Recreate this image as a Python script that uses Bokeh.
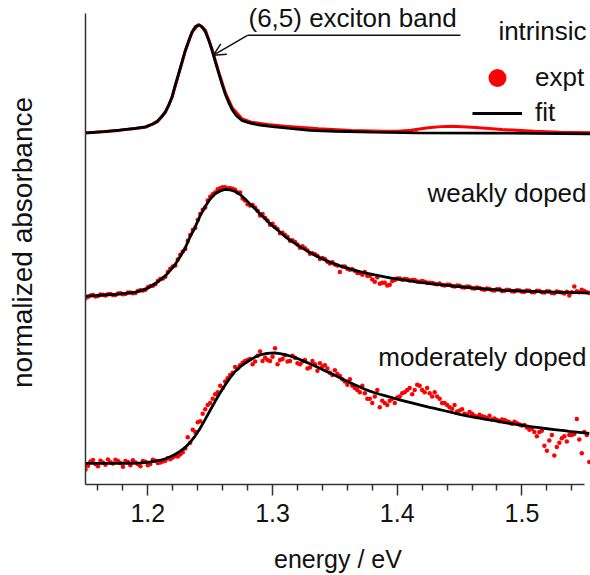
from bokeh.plotting import figure
from bokeh.models import Range1d, FixedTicker, Label, Arrow, OpenHead, Legend, LegendItem
from bokeh.embed import file_html
from bokeh.resources import INLINE

FONT = "Liberation Sans"
TXT = "#111111"
RED = "#ff0000"

# ---------------- data ----------------
# measurement grid for the doped spectra (eV), two interleaved sample sets
energy = [1.150, 1.154, 1.158, 1.162, 1.166, 1.170, 1.174, 1.178, 1.182, 1.186,
          1.190, 1.194, 1.198, 1.202, 1.206, 1.210, 1.214, 1.218, 1.222, 1.226,
          1.230, 1.234, 1.238, 1.242, 1.246, 1.250, 1.254, 1.258, 1.262, 1.266,
          1.270, 1.274, 1.278, 1.282, 1.286, 1.290, 1.294, 1.298, 1.302, 1.306,
          1.310, 1.314, 1.318, 1.322, 1.326, 1.330, 1.334, 1.338, 1.342, 1.346,
          1.350, 1.354, 1.358, 1.362, 1.366, 1.370, 1.374, 1.378, 1.382, 1.386,
          1.390, 1.394, 1.398, 1.402, 1.406, 1.410, 1.414, 1.418, 1.422, 1.426,
          1.430, 1.434, 1.438, 1.442, 1.446, 1.450, 1.454, 1.458, 1.462, 1.466,
          1.470, 1.474, 1.478, 1.482, 1.486, 1.490, 1.494, 1.498, 1.502, 1.506,
          1.510, 1.514, 1.518, 1.522, 1.526, 1.530, 1.534, 1.538, 1.542, 1.546,
          1.550, 1.554]

energy_b = [1.152, 1.156, 1.160, 1.164, 1.168, 1.172, 1.176, 1.180, 1.184, 1.188,
            1.192, 1.196, 1.200, 1.204, 1.208, 1.212, 1.216, 1.220, 1.224, 1.228,
            1.232, 1.236, 1.240, 1.244, 1.248, 1.252, 1.256, 1.260, 1.264, 1.268,
            1.272, 1.276, 1.280, 1.284, 1.288, 1.292, 1.296, 1.300, 1.304, 1.308,
            1.312, 1.316, 1.320, 1.324, 1.328, 1.332, 1.336, 1.340, 1.344, 1.348,
            1.352, 1.356, 1.360, 1.364, 1.368, 1.372, 1.376, 1.380, 1.384, 1.388,
            1.392, 1.396, 1.400, 1.404, 1.408, 1.412, 1.416, 1.420, 1.424, 1.428,
            1.432, 1.436, 1.440, 1.444, 1.448, 1.452, 1.456, 1.460, 1.464, 1.468,
            1.472, 1.476, 1.480, 1.484, 1.488, 1.492, 1.496, 1.500, 1.504, 1.508,
            1.512, 1.516, 1.520, 1.524, 1.528, 1.532, 1.536, 1.540, 1.544, 1.548,
            1.552]

weak_expt = [0.005, 0.030, 0.022, 0.040, 0.030, 0.045, 0.035, 0.052, 0.044, 0.058,
             0.055, 0.080, 0.085, 0.120, 0.135, 0.185, 0.205, 0.280, 0.310, 0.410,
             0.465, 0.595, 0.660, 0.790, 0.850, 0.950, 0.990, 1.030, 1.040, 1.030,
             1.015, 0.990, 0.915, 0.870, 0.850, 0.775, 0.755, 0.690, 0.670, 0.610,
             0.595, 0.540, 0.530, 0.475, 0.470, 0.420, 0.415, 0.370, 0.370, 0.330,
             0.320, 0.250, 0.300, 0.270, 0.262, 0.240, 0.250, 0.215, 0.160, 0.140,
             0.150, 0.130, 0.175, 0.190, 0.185, 0.170, 0.175, 0.160, 0.158, 0.150,
             0.140, 0.142, 0.125, 0.132, 0.115, 0.122, 0.105, 0.112, 0.095, 0.100,
             0.085, 0.092, 0.078, 0.090, 0.075, 0.082, 0.068, 0.078, 0.065, 0.074,
             0.060, 0.072, 0.058, 0.068, 0.052, 0.064, 0.050, 0.030, 0.115, 0.060,
             0.072, 0.055]

weak_expt_b = [0.018, 0.035, 0.025, 0.038, 0.042, 0.036, 0.050, 0.043, 0.058, 0.052,
               0.072, 0.078, 0.108, 0.122, 0.165, 0.190, 0.250, 0.300, 0.365, 0.440,
               0.540, 0.640, 0.735, 0.830, 0.915, 0.975, 1.020, 1.040, 1.030, 1.025,
               0.990, 0.935, 0.880, 0.875, 0.820, 0.790, 0.730, 0.700, 0.650, 0.615,
               0.575, 0.545, 0.505, 0.490, 0.450, 0.425, 0.400, 0.380, 0.345, 0.340,
               0.310, 0.300, 0.280, 0.275, 0.240, 0.225, 0.215, 0.180, 0.200, 0.150,
               0.125, 0.165, 0.190, 0.178, 0.182, 0.175, 0.162, 0.165, 0.150, 0.148,
               0.135, 0.128, 0.130, 0.120, 0.125, 0.108, 0.115, 0.098, 0.105, 0.090,
               0.095, 0.080, 0.088, 0.072, 0.085, 0.070, 0.080, 0.066, 0.078, 0.062,
               0.075, 0.060, 0.070, 0.055, 0.068, 0.058, 0.066, 0.062, 0.070, 0.085,
               0.062]

weak_fit = [0.025, 0.027, 0.030, 0.033, 0.036, 0.039, 0.042, 0.046, 0.050, 0.055,
            0.062, 0.074, 0.090, 0.113, 0.142, 0.176, 0.214, 0.265, 0.321, 0.395,
            0.474, 0.580, 0.670, 0.775, 0.860, 0.930, 0.978, 1.005, 1.019, 1.015,
            1.000, 0.972, 0.930, 0.882, 0.838, 0.790, 0.745, 0.700, 0.660, 0.622,
            0.580, 0.548, 0.516, 0.486, 0.458, 0.431, 0.406, 0.383, 0.362, 0.342,
            0.324, 0.307, 0.292, 0.278, 0.265, 0.253, 0.242, 0.232, 0.222, 0.213,
            0.204, 0.196, 0.188, 0.180, 0.173, 0.166, 0.159, 0.153, 0.148, 0.142,
            0.137, 0.132, 0.127, 0.122, 0.117, 0.113, 0.109, 0.104, 0.100, 0.096,
            0.092, 0.088, 0.085, 0.082, 0.079, 0.077, 0.075, 0.073, 0.071, 0.069,
            0.068, 0.066, 0.065, 0.064, 0.063, 0.061, 0.060, 0.059, 0.058, 0.057,
            0.056, 0.056]

mod_expt = [-0.020, 0.055, 0.030, 0.062, 0.025, 0.048, 0.070, 0.040, 0.058, 0.020,
            0.045, 0.010, 0.052, 0.030, 0.062, 0.045, 0.062, 0.075, 0.105, 0.120,
            0.175, 0.230, 0.330, 0.430, 0.540, 0.600, 0.680, 0.760, 0.800, 0.860,
            0.935, 0.950, 0.990, 1.010, 0.985, 1.080, 1.020, 0.990, 1.110, 1.000,
            1.045, 0.990, 1.020, 0.960, 1.000, 0.930, 0.960, 0.970, 0.950, 0.880,
            0.905, 0.850, 0.800, 0.820, 0.740, 0.700, 0.690, 0.640, 0.660, 0.560,
            0.600, 0.620, 0.600, 0.660, 0.700, 0.740, 0.720, 0.760, 0.700, 0.690,
            0.700, 0.640, 0.600, 0.560, 0.580, 0.530, 0.500, 0.515, 0.480, 0.490,
            0.470, 0.480, 0.455, 0.430, 0.440, 0.420, 0.425, 0.400, 0.395, 0.350,
            0.330, 0.330, 0.200, 0.250, 0.110, 0.230, 0.290, 0.300, 0.310, 0.260,
            0.330, 0.050]

mod_expt_b = [0.015, 0.068, 0.010, 0.045, 0.072, 0.035, 0.060, 0.005, 0.050, 0.065,
              0.030, 0.060, 0.020, 0.070, 0.040, 0.055, 0.085, 0.092, 0.100, 0.140,
              0.280, 0.350, 0.420, 0.500, 0.580, 0.640, 0.700, 0.740, 0.830, 0.880,
              0.920, 0.975, 1.000, 0.960, 1.040, 0.990, 1.000, 1.030, 0.960, 1.010,
              0.985, 1.040, 0.970, 0.985, 0.920, 0.990, 0.900, 0.940, 0.920, 0.860,
              0.870, 0.820, 0.770, 0.760, 0.720, 0.760, 0.640, 0.600, 0.720, 0.620,
              0.580, 0.640, 0.650, 0.690, 0.720, 0.680, 0.770, 0.720, 0.740, 0.660,
              0.660, 0.600, 0.580, 0.545, 0.520, 0.540, 0.490, 0.500, 0.470, 0.475,
              0.460, 0.445, 0.440, 0.445, 0.430, 0.405, 0.410, 0.390, 0.370, 0.360,
              0.290, 0.340, 0.155, 0.300, 0.190, 0.270, 0.240, 0.300, 0.450, 0.130,
              0.300]

mod_fit = [0.037, 0.037, 0.037, 0.037, 0.037, 0.037, 0.037, 0.037, 0.037, 0.038,
           0.039, 0.041, 0.045, 0.050, 0.057, 0.066, 0.080, 0.098, 0.122, 0.150,
           0.185, 0.235, 0.294, 0.365, 0.447, 0.532, 0.615, 0.695, 0.768, 0.835,
           0.893, 0.935, 0.970, 1.000, 1.027, 1.047, 1.058, 1.064, 1.065, 1.060,
           1.050, 1.037, 1.022, 1.005, 0.985, 0.965, 0.944, 0.922, 0.900, 0.878,
           0.858, 0.835, 0.812, 0.790, 0.768, 0.748, 0.727, 0.710, 0.695, 0.681,
           0.668, 0.655, 0.641, 0.628, 0.617, 0.605, 0.593, 0.581, 0.570, 0.559,
           0.549, 0.538, 0.527, 0.516, 0.505, 0.494, 0.484, 0.475, 0.466, 0.458,
           0.450, 0.442, 0.434, 0.425, 0.417, 0.410, 0.403, 0.396, 0.389, 0.381,
           0.375, 0.369, 0.363, 0.357, 0.352, 0.346, 0.341, 0.335, 0.330, 0.325,
           0.320, 0.315]

intr_energy = [1.150, 1.165, 1.177, 1.190, 1.198, 1.204, 1.2075, 1.211, 1.2142, 1.217,
               1.2195, 1.222, 1.2248, 1.2275, 1.2302, 1.233, 1.2356, 1.238, 1.2409, 1.2435,
               1.2462, 1.249, 1.2516, 1.2542, 1.2569, 1.2596, 1.2623, 1.265, 1.2676, 1.271,
               1.2757, 1.283, 1.290, 1.300, 1.310, 1.330, 1.350, 1.380, 1.417, 1.470,
               1.510, 1.555]
intr_fit = [0.006, 0.018, 0.031, 0.048, 0.062, 0.088, 0.114, 0.155, 0.206, 0.270,
            0.345, 0.450, 0.562, 0.670, 0.778, 0.870, 0.947, 0.995, 1.012, 0.995,
            0.945, 0.865, 0.770, 0.665, 0.560, 0.455, 0.361, 0.285, 0.222, 0.165,
            0.120, 0.095, 0.078, 0.064, 0.052, 0.030, 0.021, 0.012, 0.006, 0.004,
            0.002, -0.003]

intr_expt_energy = [1.150, 1.177, 1.198, 1.2075, 1.2142, 1.2195, 1.2248, 1.2302, 1.2356, 1.2409,
                    1.2462, 1.2516, 1.2569, 1.2623, 1.2676, 1.2757, 1.283, 1.296, 1.310, 1.337,
                    1.363, 1.390, 1.400, 1.411, 1.425, 1.435, 1.444, 1.460, 1.484, 1.510,
                    1.530, 1.555]
intr_expt = [0.004, 0.029, 0.058, 0.108, 0.198, 0.338, 0.556, 0.776, 0.948, 1.015,
             0.962, 0.782, 0.570, 0.375, 0.240, 0.135, 0.105, 0.085, 0.068, 0.044,
             0.028, 0.021, 0.022, 0.031, 0.053, 0.064, 0.068, 0.058, 0.037, 0.021,
             0.012, 0.006]

# vertical offsets of the stacked spectra
offset_intrinsic = 3.27
offset_weak = 1.73
offset_moderate = 0.16

x_ticks = [1.2, 1.3, 1.4, 1.5]
x_minor = [1.16, 1.18, 1.22, 1.24, 1.26, 1.28, 1.32, 1.34, 1.36, 1.38,
           1.42, 1.44, 1.46, 1.48, 1.52, 1.54]


def shift(vals, off):
    return [v + off for v in vals]


# ---------------- figure ----------------
p = figure(width=590, height=575, output_backend="svg", toolbar_location=None,
           x_range=Range1d(1.15, 1.555), y_range=Range1d(0, 4.509),
           min_border_left=85, min_border_right=0, min_border_top=0, min_border_bottom=88)
p.outline_line_color = None
p.grid.visible = False
p.background_fill_color = "white"
p.border_fill_color = "white"

# experimental data (red)
p.line(intr_expt_energy, shift(intr_expt, offset_intrinsic), line_color=RED, line_width=3)
r_weak = p.scatter(energy, shift(weak_expt, offset_weak), size=4.5, fill_color=RED, line_color=None)
p.scatter(energy_b, shift(weak_expt_b, offset_weak), size=4.5, fill_color=RED, line_color=None)
r_mod = p.scatter(energy, shift(mod_expt, offset_moderate), size=4.5, fill_color=RED, line_color=None)
p.scatter(energy_b, shift(mod_expt_b, offset_moderate), size=4.5, fill_color=RED, line_color=None)

# fits (black)
r_fit = p.line(intr_energy, shift(intr_fit, offset_intrinsic), line_color="black", line_width=2.8)
p.line(energy, shift(weak_fit, offset_weak), line_color="black", line_width=2.8)
p.line(energy, shift(mod_fit, offset_moderate), line_color="black", line_width=2.8)

# axes
xa = p.xaxis[0]
xa.ticker = FixedTicker(ticks=x_ticks, minor_ticks=x_minor)
xa.bounds = (1.15, 1.55)
xa.axis_line_color = "#333333"
xa.axis_line_width = 1.5
xa.major_tick_line_color = "#333333"
xa.major_tick_line_width = 1.5
xa.minor_tick_line_color = "#333333"
xa.minor_tick_line_width = 1.5
xa.major_tick_out = 11
xa.major_tick_in = 0
xa.minor_tick_out = 6
xa.minor_tick_in = 0
xa.major_label_text_font = FONT
xa.major_label_text_font_size = "25px"
xa.major_label_text_color = TXT
xa.major_label_standoff = 8
xa.axis_label = "energy / eV"
xa.axis_label_text_font = FONT
xa.axis_label_text_font_size = "25px"
xa.axis_label_text_font_style = "normal"
xa.axis_label_text_color = TXT
xa.axis_label_standoff = 20

ya = p.yaxis[0]
ya.ticker = FixedTicker(ticks=[])
ya.bounds = (0, 4.389)
ya.axis_line_color = "#333333"
ya.axis_line_width = 1.5
ya.major_tick_out = 0
ya.major_tick_in = 0
ya.minor_tick_out = 0
ya.minor_tick_in = 0
ya.major_label_text_font_size = "0px"
ya.major_label_standoff = 0
ya.axis_label = "normalized absorbance"
ya.axis_label_text_font = FONT
ya.axis_label_text_font_size = "28px"
ya.axis_label_text_font_style = "normal"
ya.axis_label_text_color = TXT
ya.axis_label_standoff = 48

# annotations
lab_kw = dict(text_font=FONT, text_font_size="26px", text_color=TXT, text_baseline="alphabetic")
p.add_layout(Label(x=1.5518, y=4.222, text="intrinsic", text_align="right", **lab_kw))
p.add_layout(Label(x=1.5518, y=2.713, text="weakly doped", text_align="right", **lab_kw))
p.add_layout(Label(x=1.5518, y=1.185, text="moderately doped", text_align="right", **lab_kw))
p.add_layout(Label(x=1.2807, y=4.345, text="(6,5) exciton band", text_align="left", **lab_kw))

p.add_layout(Arrow(x_start=1.2799, y_start=4.185, x_end=1.4507, y_end=4.185, end=None,
                   line_width=1.5, line_color=TXT))
p.add_layout(Arrow(x_start=1.2799, y_start=4.185, x_end=1.2526, y_end=4.0,
                   end=OpenHead(size=12, line_width=1.5, line_color=TXT),
                   line_width=1.5, line_color=TXT))

# legend (two single-item legends so the dot can be large)
leg_kw = dict(padding=0, margin=0, spacing=0, border_line_color=None, background_fill_alpha=0,
              label_text_font=FONT, label_text_font_size="26px", label_text_color=TXT,
              glyph_width=50, label_standoff=13)
leg1 = Legend(items=[LegendItem(label="expt", renderers=[r_mod])], location=(387, 384),
              glyph_height=45, **leg_kw)
leg2 = Legend(items=[LegendItem(label="fit", renderers=[r_fit])], location=(387, 356),
              glyph_height=20, **leg_kw)
p.add_layout(leg1)
p.add_layout(leg2)

open("out.html", "w").write(file_html(p, INLINE))
